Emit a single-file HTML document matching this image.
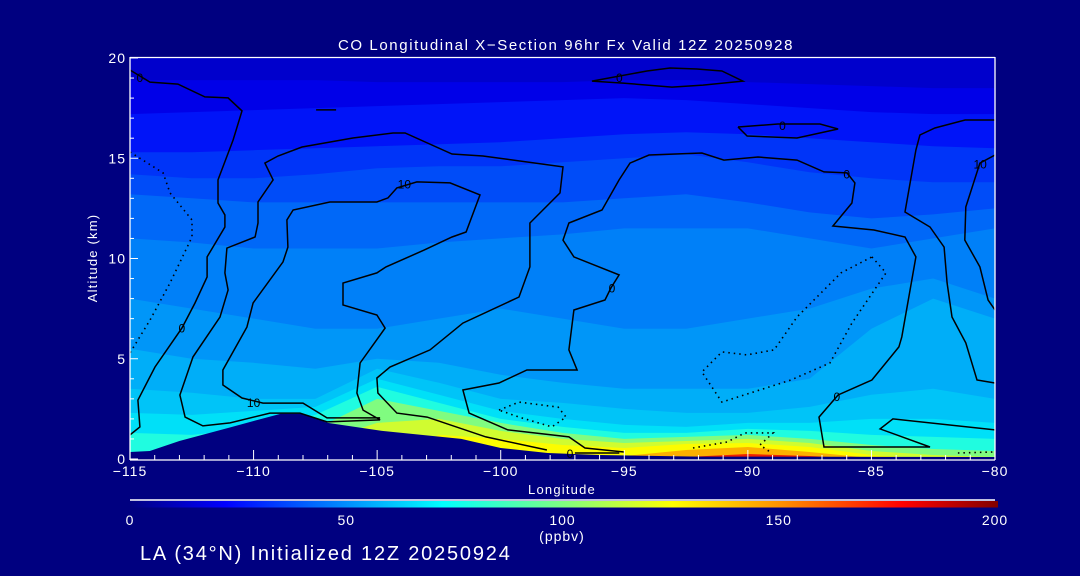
<!DOCTYPE html>
<html><head><meta charset="utf-8"><style>
html,body{margin:0;padding:0;background:#000080;}
svg{display:block;font-family:"Liberation Sans",sans-serif;}
</style></head><body>
<svg id="chart" width="1080" height="576" viewBox="0 0 1080 576" xmlns="http://www.w3.org/2000/svg">
<rect x="0" y="0" width="1080" height="576" fill="#000080"/>
<defs>
<clipPath id="plotclip"><rect x="130" y="57" width="865" height="402"/></clipPath>
<linearGradient id="jet" x1="0" x2="1" y1="0" y2="0">
<stop offset="0" stop-color="#000080"/><stop offset="0.11" stop-color="#0000ff"/>
<stop offset="0.36" stop-color="#00ffff"/><stop offset="0.5" stop-color="#80ff80"/>
<stop offset="0.625" stop-color="#ffff00"/><stop offset="0.75" stop-color="#ff9000"/>
<stop offset="0.89" stop-color="#ff0000"/><stop offset="1" stop-color="#800000"/>
</linearGradient>
</defs>
<g id="fills" clip-path="url(#plotclip)"></g>
<g id="terrain" clip-path="url(#plotclip)"></g>
<g id="contours" clip-path="url(#plotclip)"></g>
<g id="axes"></g>
<text x="566" y="50" fill="#fff" font-size="15" letter-spacing="1.6" text-anchor="middle">CO Longitudinal X−Section 96hr  Fx Valid 12Z 20250928</text>
<text x="0" y="0" fill="#fff" font-size="13" letter-spacing="1.2" text-anchor="middle" transform="translate(97,258) rotate(-90)">Altitude (km)</text>
<text x="562" y="494" fill="#fff" font-size="13" letter-spacing="1.2" text-anchor="middle">Longitude</text>
<g>
<line x1="130" y1="500" x2="995" y2="500" stroke="#fff" stroke-width="1.5"/>
<rect x="130" y="501" width="868" height="6.5" fill="url(#jet)"/>
</g>
<g id="cbticks"></g>
<text x="562" y="541" fill="#fff" font-size="14" letter-spacing="1" text-anchor="middle">(ppbv)</text>
<text x="140" y="560" fill="#fff" font-size="20" letter-spacing="1.8">LA (34°N) Initialized 12Z 20250924</text>
<script>
const lonGrid=[-115,-112.5,-110,-107.5,-105,-102.5,-100,-97.5,-95,-92.5,-90,-87.5,-85,-82.5,-80];
const levelColors=['#0000e8','#0014f8','#0034f8','#004cf8','#0068f8','#0080f8','#0096f8','#00aef8','#00c4f8','#00e0f8','#20fce0','#80fc80','#d0fc30','#fcfc00','#fcb000','#f02000'];
const levelTops=[
[18.9,18.9,18.9,18.9,18.8,18.8,18.8,18.8,18.9,18.9,18.8,18.7,18.6,18.5,18.5],
[17.2,17.3,17.4,17.5,17.6,17.7,17.8,17.9,18.0,17.9,17.7,17.5,17.3,17.2,17.2],
[15.3,15.3,15.4,15.5,15.6,15.7,15.8,16.0,16.2,16.3,16.2,16.0,15.8,15.6,15.5],
[14.2,14.0,14.0,14.2,14.5,14.6,14.6,14.8,15.0,15.2,14.8,14.3,14.0,13.8,13.8],
[13.2,13.0,12.8,12.8,12.8,12.8,12.8,12.8,13.0,13.2,12.8,12.3,12.0,12.2,12.5],
[11.0,10.8,10.5,10.5,10.5,10.8,11.0,11.2,11.5,11.5,11.5,11.0,10.5,11.0,11.5],
[8.0,7.5,7.0,6.5,6.5,7.0,7.5,7.0,6.5,6.5,7.0,7.5,8.5,9.0,8.0],
[5.5,5.0,4.8,4.5,5.0,4.8,4.2,3.8,3.5,3.5,3.5,4.0,6.5,8.0,7.0],
[3.5,3.3,3.0,3.0,4.5,3.8,3.0,2.8,2.5,2.3,2.3,2.6,3.2,3.5,3.0],
[2.3,2.2,2.4,2.6,4.0,3.2,2.4,2.0,1.7,1.6,1.8,1.8,2.0,2.0,1.8],
[1.3,1.2,1.5,2.2,3.6,2.8,2.0,1.6,1.3,1.3,1.5,1.4,1.2,1.1,1.0],
[0.3,0.2,0.5,1.5,3.0,2.4,1.8,1.3,1.0,1.1,1.2,1.0,0.7,0.5,0.4],
[0,0,0,0.8,1.8,2.0,1.4,1.0,0.8,0.9,1.0,0.8,0.4,0.2,0.1],
[0,0,0,0,0,1.2,1.0,0.7,0.55,0.75,0.8,0.6,0.2,0,0],
[0,0,0,0,0,0,0,0.1,0.15,0.45,0.6,0.35,0.05,0,0],
[0,0,0,0,0,0,0,0,0,0.1,0.25,0.15,0,0,0]
];
const terrainLon=[-115,-114.2,-113,-111,-108.9,-108,-107,-104.8,-101.6,-100,-98.1,-96,-92,-80];
const terrainAlt=[0.35,0.4,0.9,1.56,2.26,2.26,1.8,1.4,1.0,0.55,0.3,0.2,0.12,0.1];
const contourP=[[-115,19.4],[-114.19,18.8],[-113.06,18.7],[-111.97,18.06],[-111.03,18.01],[-110.47,17.36],[-110.83,15.91],[-111.44,13.92],[-111.44,12.77],[-111.16,12.17],[-111.16,11.57],[-111.88,10.08],[-111.88,9.08],[-112.37,7.78],[-112.9,6.53],[-113.99,4.59],[-114.68,2.94],[-114.6,1.6],[-115,1.2]];
const contourQ=[[-104.88,1.95],[-107.03,1.85],[-108.12,2.29],[-109.34,2.29],[-110.95,1.8],[-112.05,1.65],[-112.77,2.09],[-112.98,3.19],[-112.45,5.09],[-111.36,7.08],[-111.03,8.43],[-111.16,9.28],[-111.08,10.52],[-109.94,11.07],[-109.82,11.77],[-109.82,12.82],[-109.21,13.92],[-109.54,14.76],[-109.01,15.11],[-108.04,15.56],[-105.98,16.01],[-104.36,16.26],[-103.87,16.26],[-101.97,15.21],[-100.72,15.11],[-97.48,14.57],[-97.6,13.27],[-98.82,11.77],[-98.82,9.58],[-99.26,8.08],[-101.53,6.78],[-102.86,5.44],[-104.48,4.59],[-105.01,4.04],[-104.97,3.29],[-104.2,2.29],[-102.98,2.09],[-100.6,1.1],[-98.13,0.45]];
const contourR=[[-104.88,2.05],[-107.03,2.05],[-108.0,2.79],[-109.62,2.79],[-110.47,3.04],[-111.24,3.69],[-111.24,4.44],[-110.27,6.58],[-110.02,7.78],[-108.81,9.83],[-108.61,10.57],[-108.65,11.92],[-108.4,12.42],[-106.91,12.82],[-105.01,12.82],[-104.56,13.02],[-104.2,13.52],[-103.39,13.82],[-102.05,13.77],[-100.84,13.17],[-101.4,11.32],[-101.97,11.07],[-103.1,10.42],[-104.64,9.58],[-105.01,9.28],[-106.38,8.78],[-106.38,7.68],[-105.01,7.18],[-104.68,6.53],[-105.69,4.79],[-105.82,3.29],[-105.57,2.44],[-104.88,1.95]];
const contourT=[[-95.01,0.35],[-96.59,0.55],[-97.24,1.1],[-99.71,1.45],[-101.28,2.29],[-101.53,3.44],[-100.07,3.79],[-98.94,4.44],[-96.91,4.44],[-97.24,5.44],[-97.04,7.43],[-95.78,7.93],[-95.54,8.53],[-95.21,9.18],[-97.04,10.08],[-97.48,10.92],[-97.24,11.77],[-95.9,12.42],[-95.21,13.92],[-94.77,14.76],[-94.0,15.16],[-91.86,15.26],[-90.97,14.91],[-89.59,15.06],[-88.01,14.91],[-86.92,14.32],[-85.99,14.27],[-85.67,13.77],[-85.79,12.77],[-86.56,11.62],[-84.9,11.42],[-83.64,11.07],[-83.2,10.08],[-83.77,6.09],[-83.89,5.59],[-84.98,3.94],[-86.35,3.19],[-87.12,2.09],[-86.92,0.6],[-82.63,0.6],[-84.65,1.5],[-84.13,2.0],[-80,1.45]];
const contourU=[[-80,16.91],[-81.21,16.91],[-82.43,16.51],[-83.04,16.16],[-83.2,15.41],[-83.64,12.32],[-82.63,11.57],[-82.06,10.57],[-81.94,8.78],[-81.74,7.08],[-81.18,5.79],[-80.73,3.94],[-80,3.79]];
const contourV=[[-80,15.16],[-80.61,14.76],[-81.18,12.57],[-81.22,10.92],[-80.61,9.58],[-80.28,7.93],[-80,7.43]];
const contourTopOval=[[-96.31,18.85],[-94.08,19.35],[-93.15,19.5],[-92.06,19.45],[-91.05,19.35],[-90.2,18.85],[-91.82,18.65],[-93.07,18.55],[-95.05,18.75],[-96.31,18.85]];
const contourMidOval=[[-90.4,16.56],[-88.78,16.71],[-87.08,16.71],[-86.35,16.46],[-88.01,16.01],[-90.03,16.11],[-90.4,16.56]];
const contourDash=[[-107.47,17.41],[-106.66,17.41]];
const contourBase=[[-97.0,0.3],[-95.2,0.3]];
const dottedD1=[[-115,15.31],[-113.66,14.27],[-113.38,13.27],[-112.49,11.92],[-112.49,11.07],[-113.38,8.78],[-114.19,6.93],[-115,5.29]];
const dottedD2=[[-100.07,2.44],[-99.26,2.84],[-97.68,2.59],[-97.36,2.09],[-97.93,1.6],[-99.26,2.09],[-100.07,2.44]];
const dottedD3=[[-84.98,10.08],[-84.41,9.28],[-85.79,6.78],[-86.68,4.79],[-88.26,3.94],[-91.05,2.84],[-91.86,4.34],[-91.05,5.34],[-90.03,5.19],[-88.94,5.44],[-88.01,7.08],[-86.23,9.28],[-84.98,10.08]];
const dottedD4=[[-92.22,0.55],[-90.84,0.85],[-90.12,1.3],[-88.98,1.3],[-89.51,0.7],[-89.1,0.35]];
const dottedD5=[[-81.5,0.3],[-80.08,0.35]];
const labelLon=[-114.6,-112.9,-110.0,-103.9,-95.5,-86.0,-86.4,-80.6,-97.2,-95.2,-88.6];
const labelAlt=[19.0,6.5,2.8,13.7,8.5,14.2,3.1,14.7,0.25,19.0,16.6];
const labelText=['0','0','10','10','0','0','0','10','0','0','0'];
const xTickLabels=['−115','−110','−105','−100','−95','−90','−85','−80'];
const xTickValues=[-115,-110,-105,-100,-95,-90,-85,-80];
const yTickValues=[0,5,10,15,20];
const yTickLabels=['0','5','10','15','20'];
const cbValues=[0,50,100,150,200];
const cbLabels=['0','50','100','150','200'];

const NS='http://www.w3.org/2000/svg';
const xs=lon=>130+(lon+115)*(865/35);
const ys=alt=>459-alt*20.05;
const cbx=v=>130+v*(865/200);
function mk(tag,parent){const e=document.createElementNS(NS,tag);parent.appendChild(e);return e;}

const fills=document.getElementById('fills');
const base=mk('rect',fills);


base.setAttribute('x',130);base.setAttribute('y',57);base.setAttribute('width',865);base.setAttribute('height',402);base.setAttribute('fill','#0000cc');
levelTops.forEach((tops,i)=>{
  let pts=[xs(lonGrid[0])+','+ys(-0.2)];
  tops.forEach((a,j)=>pts.push(xs(lonGrid[j]).toFixed(1)+','+ys(a).toFixed(1)));
  pts.push(xs(lonGrid[lonGrid.length-1])+','+ys(-0.2));
  const p=mk('polygon',fills);
  
  
  p.setAttribute('points',pts.join(' '));
  p.setAttribute('fill',levelColors[i]);
});
const terr=document.getElementById('terrain');
{
  let pts=[xs(-115)+','+ys(-0.5)];
  terrainLon.forEach((l,j)=>pts.push(xs(l).toFixed(1)+','+ys(terrainAlt[j]).toFixed(1)));
  pts.push(xs(-80)+','+ys(-0.5));
  const p=mk('polygon',terr);
  
  
  p.setAttribute('points',pts.join(' '));
  p.setAttribute('fill','#000080');
}
const cg=document.getElementById('contours');
function drawLine(arr,name,dotted){
  const p=mk('polyline',cg);
  
  
  p.setAttribute('points',arr.map(d=>xs(d[0]).toFixed(1)+','+ys(d[1]).toFixed(1)).join(' '));
  p.setAttribute('fill','none');
  p.setAttribute('stroke','#000');
  p.setAttribute('stroke-width',dotted?1.6:1.5);
  if(dotted){p.setAttribute('stroke-dasharray','1.5 4');}
}
drawLine(contourP,'contour-zero-west',false);
drawLine(contourQ,'contour-zero-rockies',false);
drawLine(contourR,'contour-ten-rockies',false);
drawLine(contourT,'contour-zero-central',false);
drawLine(contourU,'contour-ten-east',false);
drawLine(contourV,'contour-ten-east-inner',false);
drawLine(contourTopOval,'contour-zero-top-oval',false);
drawLine(contourMidOval,'contour-zero-mid-oval',false);
drawLine(contourDash,'contour-fragment',false);
drawLine(contourBase,'contour-zero-surface',false);
drawLine(dottedD1,'contour-negative-west',true);
drawLine(dottedD2,'contour-negative-plains',true);
drawLine(dottedD3,'contour-negative-east',true);
drawLine(dottedD4,'contour-negative-surface',true);
drawLine(dottedD5,'contour-negative-surface-east',true);
labelText.forEach((t,i)=>{
  const e=mk('text',cg);
  
  
  e.setAttribute('x',xs(labelLon[i]));e.setAttribute('y',ys(labelAlt[i])+4);
  e.setAttribute('font-size','12');e.setAttribute('fill','#000');e.setAttribute('text-anchor','middle');
  e.textContent=t;
});

const ax=document.getElementById('axes');
function line(x1,y1,x2,y2,name,w){
  const l=mk('line',ax);
  
  
  l.setAttribute('x1',x1);l.setAttribute('y1',y1);l.setAttribute('x2',x2);l.setAttribute('y2',y2);
  l.setAttribute('stroke','#fff');l.setAttribute('stroke-width',w||1.3);
}
line(130,57.5,995,57.5,'plot-frame-top');
line(995,57,995,460,'plot-frame-right');
line(130,57,130,460,'plot-frame-left');
line(130,460,995,460,'x-axis-line');
for(let lon=-115;lon<=-80;lon++){
  const major=(lon%5===0);
  line(xs(lon),460,xs(lon),major?450:455,'x-tick',1);
}
for(let a=0;a<=20;a++){
  const major=(a%5===0);
  line(130,ys(a),major?138:134,ys(a),'y-tick',1);
}
xTickValues.forEach((v,i)=>{
  const e=mk('text',ax);
  
  
  e.setAttribute('x',xs(v));e.setAttribute('y',476);
  e.setAttribute('font-size','14');e.setAttribute('letter-spacing','1');e.setAttribute('fill','#fff');e.setAttribute('text-anchor','middle');
  e.textContent=xTickLabels[i];
});
yTickValues.forEach((v,i)=>{
  const e=mk('text',ax);
  
  
  e.setAttribute('x',126);e.setAttribute('y',ys(v)+5);
  e.setAttribute('font-size','14');e.setAttribute('letter-spacing','1');e.setAttribute('fill','#fff');e.setAttribute('text-anchor','end');
  e.textContent=yTickLabels[i];
});
const cbt=document.getElementById('cbticks');
cbValues.forEach((v,i)=>{
  const e=mk('text',cbt);
  
  
  e.setAttribute('x',cbx(v));e.setAttribute('y',525);
  e.setAttribute('font-size','14');e.setAttribute('letter-spacing','1');e.setAttribute('fill','#fff');e.setAttribute('text-anchor','middle');
  e.textContent=cbLabels[i];
});
</script>
</svg>
</body></html>
